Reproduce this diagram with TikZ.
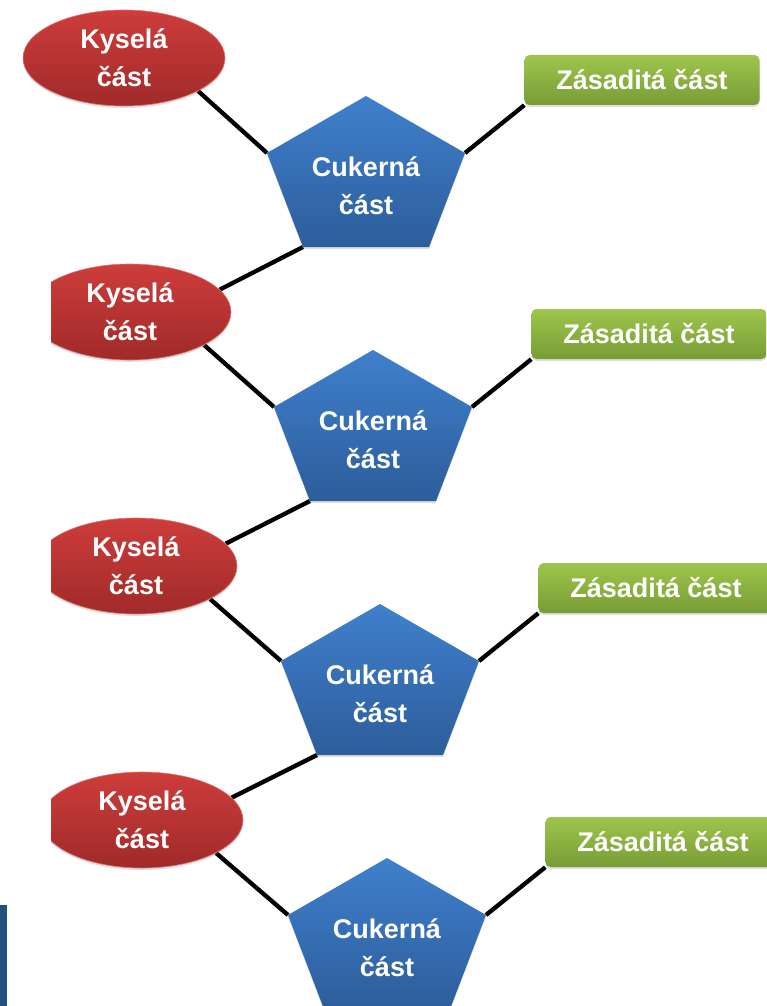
\documentclass[tikz,border=0pt]{standalone}
\usepackage{fontspec}
\setmainfont{Liberation Sans}
\usetikzlibrary{shapes.geometric,shadows}
\pgfdeclarelayer{background}
\pgfsetlayers{background,main}
\definecolor{kysTop}{HTML}{CD3D3B}
\definecolor{kysBot}{HTML}{A02A2A}
\definecolor{cukTop}{HTML}{3F80CC}
\definecolor{cukBot}{HTML}{2D5D9B}
\definecolor{zasTop}{HTML}{9EC54C}
\definecolor{zasBot}{HTML}{789C36}
\definecolor{okraj}{HTML}{22507F}
\begin{document}
\begin{tikzpicture}[
		x=1pt, y=-1pt,
		every node/.style={font=\bfseries\fontsize{27}{38}\selectfont, text=white, align=center, inner sep=2pt},
		kyselina/.style={ellipse, minimum width=202pt, minimum height=96pt, top color=kysTop, bottom color=kysBot, draw=kysTop!70!white, line width=0.6pt, drop shadow={opacity=0.25, shadow xshift=0pt, shadow yshift=-2pt}},
		cukr/.style={top color=cukTop, bottom color=cukBot, drop shadow={opacity=0.25, shadow xshift=0pt, shadow yshift=-2pt}},
		zasada/.style={rounded corners=5pt, minimum width=235pt, minimum height=50pt, top color=zasTop, bottom color=zasBot, drop shadow={opacity=0.25, shadow xshift=0pt, shadow yshift=-2pt}},
		vazba/.style={line width=4.3pt, black}
	]
	\useasboundingbox (0,0) rectangle (767,1006);
	\clip (0,0) rectangle (767,1006);
	\fill[okraj] (0,905) rectangle (7,1006);
	\foreach \i in {0,...,3} {
		\begin{scope}[shift={(7*\i,254*\i)}]
			\path[cukr] (366,96) coordinate (c\i-t) -- (465,153) coordinate (c\i-r)
				-- (429,247) coordinate (c\i-br) -- (303,247) coordinate (c\i-bl)
				-- (267,153) coordinate (c\i-l) -- cycle;
			\node (c\i) at (366,186) {Cukerná\\část};
			\node[zasada] (z\i) at (642,80) {Zásaditá část};
		\end{scope}
	}
	\node[kyselina] (k0) at (124,58) {Kyselá\\část};
	\begin{scope}
		\clip (51,0) rectangle (767,1006);
		\foreach \i in {1,2,3}
			\node[kyselina] (k\i) at (124+6*\i,58+254*\i) {Kyselá\\část};
	\end{scope}
	\begin{pgfonlayer}{background}
		\foreach \i in {0,...,3} {
			\draw[vazba] (k\i.-24) -- (c\i-l);
			\draw[vazba] (c\i-r) -- (z\i.south west);
		}
		\foreach \i/\j in {0/1,1/2,2/3}
			\draw[vazba] (c\i-bl) -- (k\j.14);
	\end{pgfonlayer}
\end{tikzpicture}
\end{document}
